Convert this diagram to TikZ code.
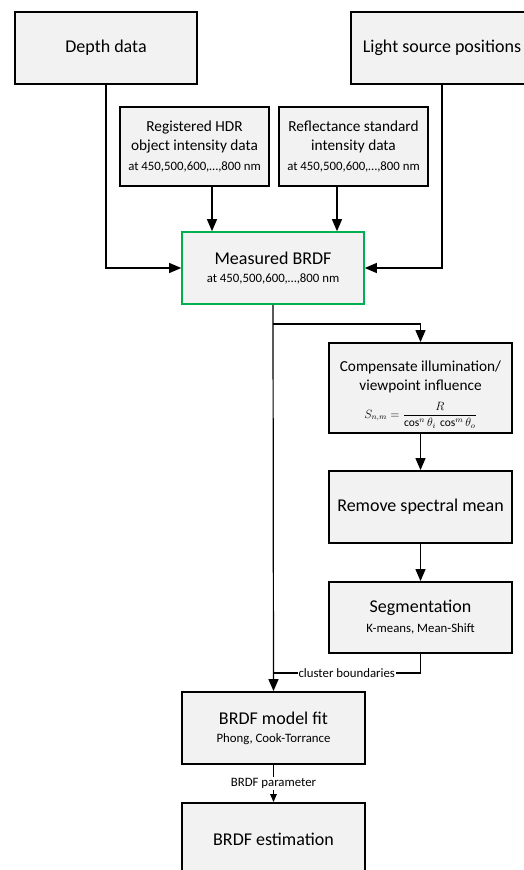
\documentclass[tikz,border=0pt]{standalone}
\usepackage{fontspec}
\setmainfont{Carlito}
\usetikzlibrary{arrows.meta}
\definecolor{boxgray}{HTML}{F2F2F2}
\definecolor{boxgreen}{HTML}{00B050}
\begin{document}
\begin{tikzpicture}[x=1pt,y=-1pt,
  box/.style={draw=black, line width=1.8pt, fill=boxgray, rectangle, align=center, inner sep=0pt, text=black},
  bigtxt/.style={font=\fontsize{18}{22}\selectfont},
  midtxt/.style={font=\fontsize{15.3}{19}\selectfont},
  conn/.style={line width=1.2pt},
  arr/.style={conn, -{Triangle[length=12pt,width=10pt]}},
  smallarr/.style={conn, -{Triangle[length=8pt,width=6.5pt]}},
  lbl/.style={fill=white, inner sep=1pt, font=\fontsize{12.8}{15}\selectfont}
]
\useasboundingbox (0,0) rectangle (524,870);
\begin{scope}
\clip (0,0) rectangle (524,870);

\node[box, bigtxt, minimum width=182, minimum height=72] (depth) at (106,48) {Depth data};
\node[box, bigtxt, minimum width=182, minimum height=72] (light) at (442,48) {Light source positions};

\node[box, midtxt, minimum width=149, minimum height=79] (hdr) at (194.5,146.5)
  {Registered HDR\\object intensity data\\[1pt]{\fontsize{12.8}{15}\selectfont at 450,500,600,…,800 nm}};
\node[box, midtxt, minimum width=149, minimum height=79] (refl) at (353.5,146.5)
  {Reflectance standard\\intensity data\\[1pt]{\fontsize{12.8}{15}\selectfont at 450,500,600,…,800 nm}};

\node[box, draw=boxgreen, line width=1.6pt, bigtxt, minimum width=182, minimum height=72] (mb) at (273,268)
  {Measured BRDF\\[-4pt]{\fontsize{12.8}{15}\selectfont at 450,500,600,…,800 nm}};

\node[box, midtxt, minimum width=183, minimum height=90] (comp) at (420.5,388) {};
\node[midtxt, align=center, inner sep=0pt] (comptxt) at (420.5,377)
  {Compensate illumination/\\viewpoint influence};
\node[inner sep=0pt, font=\fontsize{11.5}{13}\selectfont] (compf) at (420.5,415)
  {$S_{n,m}=\displaystyle\frac{R}{\cos^{n}\theta_i\,\cos^{m}\theta_o}$};

\node[box, bigtxt, minimum width=183, minimum height=72] (rem) at (420.5,507) {Remove spectral mean};

\node[box, bigtxt, minimum width=183, minimum height=71] (seg) at (420.5,617.5)
  {Segmentation\\[-2pt]{\fontsize{12.8}{15}\selectfont K-means, Mean-Shift}};

\node[box, bigtxt, minimum width=183, minimum height=72] (fit) at (273.5,728)
  {BRDF model fit\\[-4pt]{\fontsize{12.8}{15}\selectfont Phong, Cook-Torrance}};

\node[box, bigtxt, minimum width=183, minimum height=72] (est) at (273.5,839) {BRDF estimation};

% connectors
\draw[arr] (depth.south) |- (mb.west);
\draw[arr] (light.south) |- (mb.east);
\draw[arr] ([xshift=17.5pt]hdr.south) -- ([xshift=17.5pt]hdr.south |- mb.north);
\draw[arr] ([xshift=-16.5pt]refl.south) -- ([xshift=-16.5pt]refl.south |- mb.north);

\draw[arr] (mb.south) -- (fit.north);
\coordinate (br) at (273,324);
\draw[arr] (br) -| (comp.north);
\draw[arr] (comp.south) -- (rem.north);
\draw[arr] (rem.south) -- (seg.north);

\coordinate (cj) at (273,673);
\draw[conn] (seg.south) |- (cj) node[lbl, pos=0.75] {cluster boundaries};

\draw[smallarr] (fit.south) -- (est.north) node[lbl, midway] {BRDF parameter};
\end{scope}
\end{tikzpicture}
\end{document}
